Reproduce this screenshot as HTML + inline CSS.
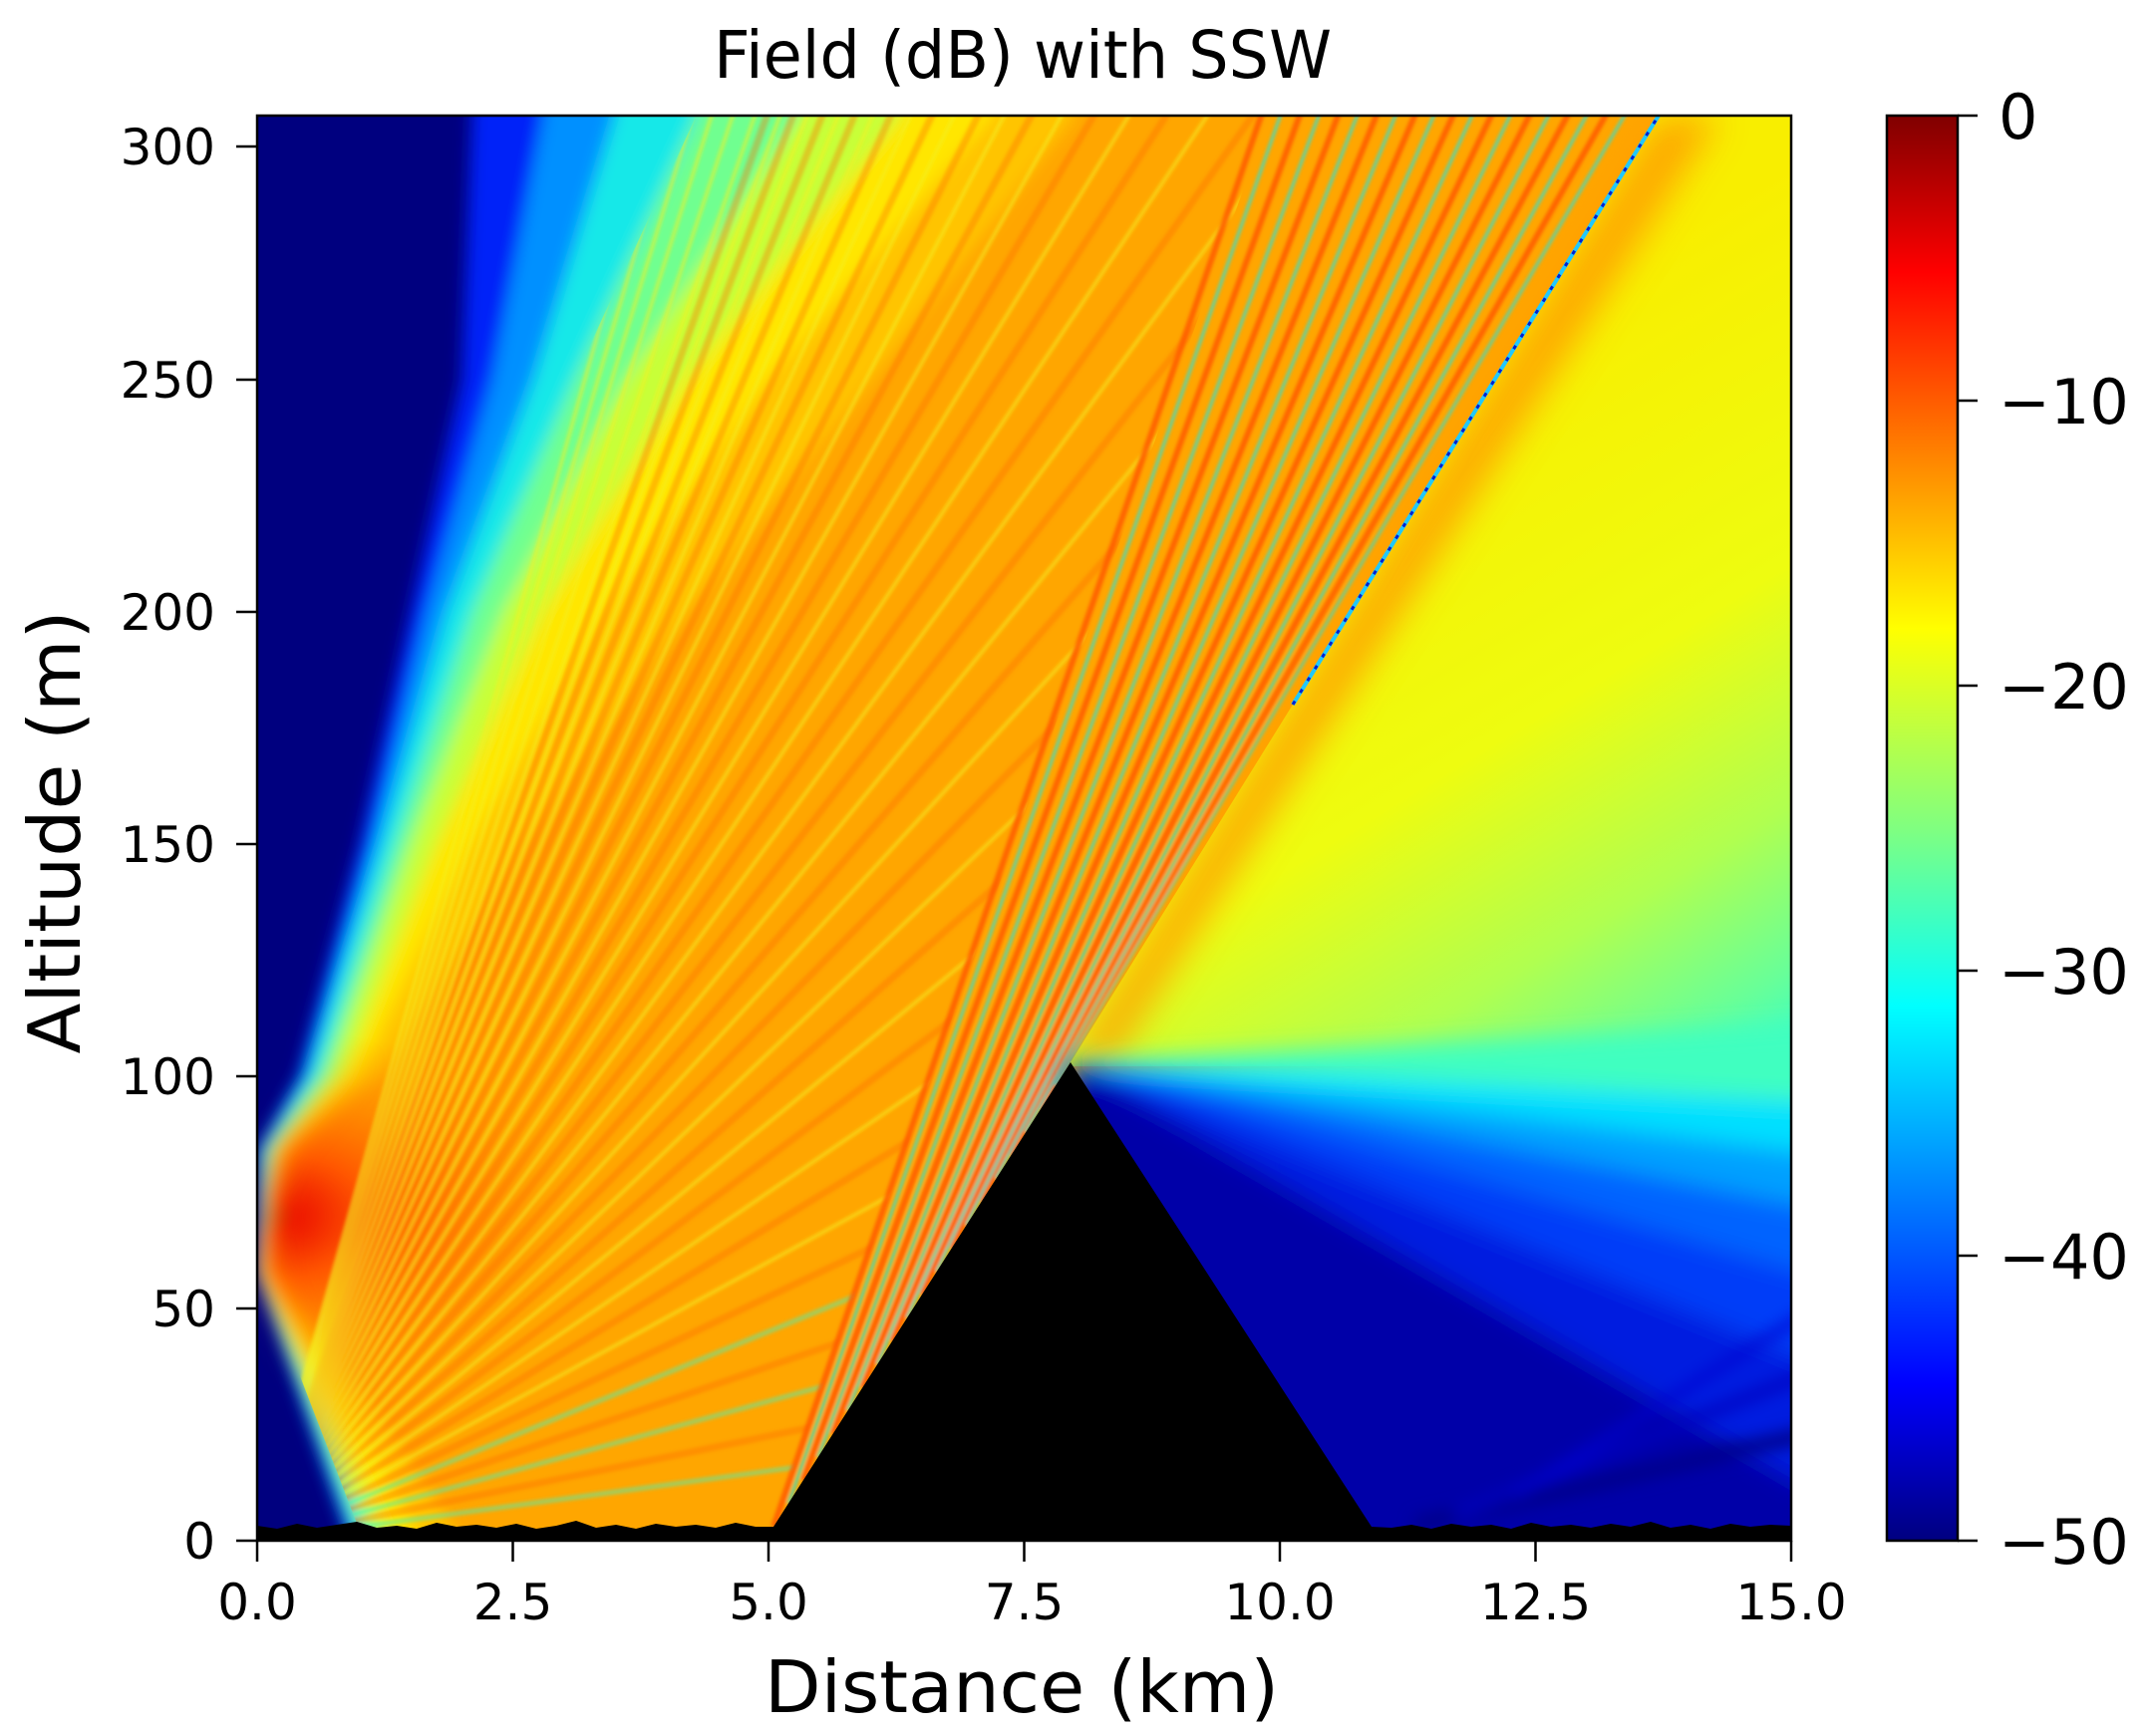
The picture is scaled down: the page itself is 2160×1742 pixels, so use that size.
<!DOCTYPE html>
<html><head><meta charset="utf-8"><style>html,body{margin:0;padding:0;background:#fff}svg{display:block}</style></head><body>
<svg width="2160" height="1742" viewBox="0 0 2160 1742" xmlns="http://www.w3.org/2000/svg" font-family="DejaVu Sans, Liberation Sans, sans-serif">
<defs>
<clipPath id="plot"><rect x="258" y="116" width="1539" height="1430"/></clipPath>
<filter id="b5" x="-10%" y="-10%" width="120%" height="120%"><feGaussianBlur stdDeviation="8"/></filter>
<filter id="b2"><feGaussianBlur stdDeviation="1.6"/></filter>
<filter id="b12" x="-20%" y="-20%" width="140%" height="140%"><feGaussianBlur stdDeviation="12"/></filter>
<filter id="b18" x="-30%" y="-30%" width="160%" height="160%"><feGaussianBlur stdDeviation="18"/></filter>
<mask id="mL6" maskUnits="userSpaceOnUse" x="0" y="0" width="2160" height="1742"><g filter="url(#b18)"><polygon fill="#fff" transform="translate(258,1546) scale(102.6,-4.662)" points="1.3,0 0.068,58 0.224,84 0.85,100 1.75,150 2.7,200 3.9,250 5.6,307 5.6,312 16,312 16,-5 1.3,-5"/></g></mask>
<clipPath id="cL4"><polygon transform="translate(258,1546) scale(102.6,-4.662)" points="1.04,0 0.024,58 0.112,84 0.6,100 1.35,150 2.1,200 3.1,250 4.3,307 4.3,312 16,312 16,-5 1.04,-5"/></clipPath>
<clipPath id="cLeft"><polygon transform="translate(258,1546) scale(102.6,-4.662)" points="-1,-5 4.92,-5 9.9,307 9.95,312 -1,312"/></clipPath>
<radialGradient id="src" cx="0.5" cy="0.5" r="0.5">
<stop offset="0" stop-color="#c00000"/><stop offset="0.12" stop-color="#ec1000"/><stop offset="0.35" stop-color="#ff4800" stop-opacity="0.85"/><stop offset="0.7" stop-color="#ff7800" stop-opacity="0.45"/><stop offset="1" stop-color="#ff9000" stop-opacity="0"/>
</radialGradient>
<linearGradient id="rg" gradientUnits="userSpaceOnUse" x1="1400" y1="400" x2="1800" y2="1060">
<stop offset="0" stop-color="#f8ee00"/><stop offset="0.45" stop-color="#eefc10"/><stop offset="0.72" stop-color="#b0ff50"/><stop offset="0.9" stop-color="#68ff98"/><stop offset="1" stop-color="#38ffc8"/>
</linearGradient>
<linearGradient id="jet" x1="0" y1="0" x2="0" y2="1">
<stop offset="0" stop-color="#800000"/><stop offset="0.11" stop-color="#ff0000"/><stop offset="0.36" stop-color="#ffff00"/><stop offset="0.5" stop-color="#80ff80"/><stop offset="0.625" stop-color="#00ffff"/><stop offset="0.89" stop-color="#0000ff"/><stop offset="1" stop-color="#000080"/>
</linearGradient>
</defs>

<g clip-path="url(#plot)">
<rect x="258" y="116" width="1539" height="1430" fill="#00007f"/>
<g filter="url(#b5)">
<g transform="translate(258,1546) scale(102.6,-4.662)">
<polygon fill="#0020f8" points="0.9,0 0,58 0,84 0.4,100 1.0,150 1.5,200 2.0,250 2.1,307 2.1,312 16,312 16,-5 0.9,-5"/>
<polygon fill="#0090ff" points="0.93,0 0.005,58 0.03,84 0.45,100 1.1,150 1.65,200 2.3,250 2.8,307 2.8,312 16,312 16,-5 0.93,-5"/>
<polygon fill="#18e8e8" points="0.97,0 0.012,58 0.06,84 0.5,100 1.2,150 1.85,200 2.7,250 3.5,307 3.5,312 16,312 16,-5 0.97,-5"/>
<polygon fill="#70ff90" points="1.04,0 0.024,58 0.112,84 0.6,100 1.35,150 2.1,200 3.1,250 4.3,307 4.3,312 16,312 16,-5 1.04,-5"/>
<polygon fill="#c8ff38" points="1.15,0 0.0425,58 0.168,84 0.7,100 1.5,150 2.4,200 3.6,250 5.3,307 5.3,312 16,312 16,-5 1.15,-5"/>
<polygon fill="#ffe600" points="1.3,0 0.068,58 0.224,84 0.85,100 1.75,150 2.8,200 4.2,250 6.3,307 6.3,312 16,312 16,-5 1.3,-5"/>
<polygon fill="#ffc400" points="1.6,0 0.119,58 0.294,84 1.0,100 2.1,150 3.4,200 5.0,250 7.2,307 7.2,312 16,312 16,-5 1.6,-5"/>
<polygon fill="#ffa600" points="2.0,0 0.187,58 0.378,84 1.2,100 2.6,150 4.2,200 6.0,250 8.0,307 8.0,312 16,312 16,-5 2.0,-5"/>
</g>
</g>
<g mask="url(#mL6)"><ellipse cx="258" cy="1220" rx="320" ry="190" fill="url(#src)"/></g>

<g clip-path="url(#cL4)"><g clip-path="url(#cLeft)"><g filter="url(#b2)">
<g transform="translate(258,1546) scale(102.6,-4.662)" fill="none">
<g stroke="#ff6800" stroke-opacity="0.35" stroke-width="7">
<polyline vector-effect="non-scaling-stroke" points="0,0 15,67.5"/><polyline vector-effect="non-scaling-stroke" points="0,0 15,112.5"/><polyline vector-effect="non-scaling-stroke" points="0,0 15,157.5"/><polyline vector-effect="non-scaling-stroke" points="0,0 15,202.5"/><polyline vector-effect="non-scaling-stroke" points="0,0 15,247.5"/><polyline vector-effect="non-scaling-stroke" points="0,0 15,292.5"/><polyline vector-effect="non-scaling-stroke" points="0,0 13.87,312"/><polyline vector-effect="non-scaling-stroke" points="0,0 12.24,312"/><polyline vector-effect="non-scaling-stroke" points="0,0 10.95,312"/><polyline vector-effect="non-scaling-stroke" points="0,0 9.9,312"/><polyline vector-effect="non-scaling-stroke" points="0,0 9.04,312"/><polyline vector-effect="non-scaling-stroke" points="0,0 8.32,312"/><polyline vector-effect="non-scaling-stroke" points="0,0 7.7,312"/><polyline vector-effect="non-scaling-stroke" points="0,0 7.17,312"/><polyline vector-effect="non-scaling-stroke" points="0,0 6.71,312"/><polyline vector-effect="non-scaling-stroke" points="0,0 6.3,312"/><polyline vector-effect="non-scaling-stroke" points="0,0 5.94,312"/><polyline vector-effect="non-scaling-stroke" points="0,0 5.62,312"/><polyline vector-effect="non-scaling-stroke" points="0,0 5.33,312"/><polyline vector-effect="non-scaling-stroke" points="0,0 5.07,312"/>
</g>
<g stroke="#50f0b0" stroke-opacity="0.5" stroke-width="5">
<polyline vector-effect="non-scaling-stroke" points="0,0 15,45"/><polyline vector-effect="non-scaling-stroke" points="0,0 15,90"/><polyline vector-effect="non-scaling-stroke" points="0,0 15,135"/>
</g>
<g stroke="#f4f020" stroke-opacity="0.55" stroke-width="4">
<polyline vector-effect="non-scaling-stroke" points="0,0 15,180"/><polyline vector-effect="non-scaling-stroke" points="0,0 15,225"/><polyline vector-effect="non-scaling-stroke" points="0,0 15,270"/><polyline vector-effect="non-scaling-stroke" points="0,0 14.86,312"/><polyline vector-effect="non-scaling-stroke" points="0,0 13,312"/><polyline vector-effect="non-scaling-stroke" points="0,0 11.56,312"/><polyline vector-effect="non-scaling-stroke" points="0,0 10.4,312"/><polyline vector-effect="non-scaling-stroke" points="0,0 9.45,312"/><polyline vector-effect="non-scaling-stroke" points="0,0 8.67,312"/><polyline vector-effect="non-scaling-stroke" points="0,0 8,312"/><polyline vector-effect="non-scaling-stroke" points="0,0 7.43,312"/><polyline vector-effect="non-scaling-stroke" points="0,0 6.93,312"/><polyline vector-effect="non-scaling-stroke" points="0,0 6.5,312"/><polyline vector-effect="non-scaling-stroke" points="0,0 6.12,312"/><polyline vector-effect="non-scaling-stroke" points="0,0 5.78,312"/><polyline vector-effect="non-scaling-stroke" points="0,0 5.47,312"/><polyline vector-effect="non-scaling-stroke" points="0,0 5.2,312"/><polyline vector-effect="non-scaling-stroke" points="0,0 4.95,312"/><polyline vector-effect="non-scaling-stroke" points="0,0 4.73,312"/><polyline vector-effect="non-scaling-stroke" points="0,0 4.52,312"/><polyline vector-effect="non-scaling-stroke" points="0,0 4.33,312"/><polyline vector-effect="non-scaling-stroke" points="0,0 4.16,312"/><polyline vector-effect="non-scaling-stroke" points="0,0 4,312"/>
</g>
</g></g></g></g>

<g filter="url(#b2)"><g transform="translate(258,1546) scale(102.6,-4.662)" fill="none">
<g stroke="#ff5a00" stroke-width="6" stroke-opacity="0.85">
<polyline vector-effect="non-scaling-stroke" points="5.05,3 9.9,312"/><polyline vector-effect="non-scaling-stroke" points="5.34,13 10.28,312"/><polyline vector-effect="non-scaling-stroke" points="5.63,23 10.66,312"/><polyline vector-effect="non-scaling-stroke" points="5.92,33 11.04,312"/><polyline vector-effect="non-scaling-stroke" points="6.21,43 11.42,312"/><polyline vector-effect="non-scaling-stroke" points="6.5,53 11.8,312"/><polyline vector-effect="non-scaling-stroke" points="6.79,63 12.18,312"/><polyline vector-effect="non-scaling-stroke" points="7.08,73 12.56,312"/><polyline vector-effect="non-scaling-stroke" points="7.37,83 12.94,312"/><polyline vector-effect="non-scaling-stroke" points="7.66,93 13.32,312"/>
</g>
<g stroke="#30e0d0" stroke-width="3" stroke-opacity="0.85">
<polyline vector-effect="non-scaling-stroke" points="5.195,8 10.09,312"/><polyline vector-effect="non-scaling-stroke" points="5.485,18 10.47,312"/><polyline vector-effect="non-scaling-stroke" points="5.775,28 10.85,312"/><polyline vector-effect="non-scaling-stroke" points="6.065,38 11.23,312"/><polyline vector-effect="non-scaling-stroke" points="6.355,48 11.61,312"/><polyline vector-effect="non-scaling-stroke" points="6.645,58 11.99,312"/><polyline vector-effect="non-scaling-stroke" points="6.935,68 12.37,312"/><polyline vector-effect="non-scaling-stroke" points="7.225,78 12.75,312"/><polyline vector-effect="non-scaling-stroke" points="7.515,88 13.13,312"/><polyline vector-effect="non-scaling-stroke" points="7.805,98 13.51,312"/>
</g>
</g></g>

<polygon points="1074,1066 1664,116 1810,116 1810,1070 1074,1070" fill="url(#rg)"/>
<polygon points="1074,1066 1664,116 1725,116 1115,1066" fill="#ff9c00" opacity="0.85" filter="url(#b18)"/>
<line x1="1297" y1="707" x2="1664" y2="116" stroke="#20c8ff" stroke-width="4"/>
<line x1="1297" y1="707" x2="1664" y2="116" stroke="#0020d0" stroke-width="3" stroke-dasharray="4 10"/>

<g filter="url(#b12)">
<polygon fill="#40ffc0" points="1074,1066 1874,1024 1874,1108"/>
<polygon fill="#00e0ff" points="1074,1066 1874,1108 1874,1164"/>
<polygon fill="#00a0ff" points="1074,1066 1874,1164 1874,1222"/>
<polygon fill="#0064ff" points="1074,1066 1874,1222 1874,1295"/>
<polygon fill="#003cf8" points="1074,1066 1874,1295 1874,1389"/>
<polygon fill="#001ce0" points="1074,1066 1874,1389 1874,1528"/>
<polygon fill="#0000a8" points="1074,1066 1874,1528 1874,1760 1074,1760"/>
</g>
<g filter="url(#b5)">
<line x1="1420" y1="1530" x2="1810" y2="1440" stroke="#000088" stroke-width="14"/>
<line x1="1460" y1="1520" x2="1810" y2="1380" stroke="#0000c0" stroke-width="10"/>
<line x1="1520" y1="1500" x2="1810" y2="1320" stroke="#0010d0" stroke-width="8"/>
</g>

<polygon fill="#000" points="258,1546 258,1531 278,1534 298,1529 318,1533 338,1530 358,1527 378,1533 398,1531 418,1534 438,1528 458,1532 478,1530 498,1533 518,1529 538,1534 558,1531 578,1526 598,1533 618,1530 638,1534 658,1529 678,1532 698,1530 718,1533 738,1528 758,1532 776,1532 1074,1066 1376,1532 1396,1533 1416,1530 1436,1534 1456,1529 1476,1532 1496,1530 1516,1534 1536,1528 1556,1532 1576,1530 1596,1533 1616,1529 1636,1532 1656,1527 1676,1533 1696,1530 1716,1534 1736,1529 1756,1532 1776,1530 1797,1531 1797,1546"/>
</g>

<rect x="258" y="116" width="1539" height="1430" fill="none" stroke="#000" stroke-width="2.5"/>
<g stroke="#000" stroke-width="2.5">
<line x1="258" y1="1546" x2="258" y2="1567"/><line x1="514.5" y1="1546" x2="514.5" y2="1567"/><line x1="771" y1="1546" x2="771" y2="1567"/><line x1="1027.5" y1="1546" x2="1027.5" y2="1567"/><line x1="1284" y1="1546" x2="1284" y2="1567"/><line x1="1540.5" y1="1546" x2="1540.5" y2="1567"/><line x1="1797" y1="1546" x2="1797" y2="1567"/>
<line x1="237" y1="1546" x2="258" y2="1546"/><line x1="237" y1="1313" x2="258" y2="1313"/><line x1="237" y1="1080" x2="258" y2="1080"/><line x1="237" y1="847" x2="258" y2="847"/><line x1="237" y1="614" x2="258" y2="614"/><line x1="237" y1="381" x2="258" y2="381"/><line x1="237" y1="147" x2="258" y2="147"/>
</g>
<g font-size="50" fill="#000" text-anchor="middle">
<text x="258" y="1625">0.0</text><text x="514.5" y="1625">2.5</text><text x="771" y="1625">5.0</text><text x="1027.5" y="1625">7.5</text><text x="1284" y="1625">10.0</text><text x="1540.5" y="1625">12.5</text><text x="1797" y="1625">15.0</text>
</g>
<g font-size="50" fill="#000" text-anchor="end">
<text x="216" y="1564">0</text><text x="216" y="1331">50</text><text x="216" y="1098">100</text><text x="216" y="865">150</text><text x="216" y="632">200</text><text x="216" y="399">250</text><text x="216" y="165">300</text>
</g>
<text x="1026" y="78" font-size="66" text-anchor="middle" textLength="620" lengthAdjust="spacingAndGlyphs">Field (dB) with SSW</text>
<text x="1025" y="1718" font-size="72" text-anchor="middle" textLength="516" lengthAdjust="spacingAndGlyphs">Distance (km)</text>
<text transform="translate(80,835) rotate(-90)" font-size="72" text-anchor="middle" textLength="445" lengthAdjust="spacingAndGlyphs">Altitude (m)</text>

<rect x="1893" y="116" width="71" height="1430" fill="url(#jet)" stroke="#000" stroke-width="2.5"/>
<g stroke="#000" stroke-width="2.5">
<line x1="1964" y1="116" x2="1984" y2="116"/><line x1="1964" y1="402" x2="1984" y2="402"/><line x1="1964" y1="688" x2="1984" y2="688"/><line x1="1964" y1="974" x2="1984" y2="974"/><line x1="1964" y1="1260" x2="1984" y2="1260"/><line x1="1964" y1="1546" x2="1984" y2="1546"/>
</g>
<g font-size="62" fill="#000">
<text x="2005" y="139">0</text><text x="2005" y="425">−10</text><text x="2005" y="711">−20</text><text x="2005" y="997">−30</text><text x="2005" y="1283">−40</text><text x="2005" y="1569">−50</text>
</g>
</svg>
</body></html>
